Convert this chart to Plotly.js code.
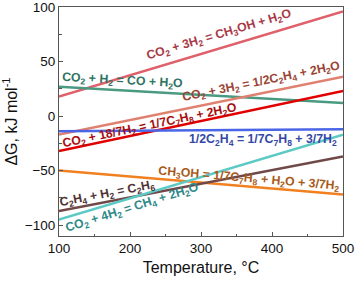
<!DOCTYPE html>
<html><head><meta charset="utf-8">
<script src="https://cdn.plot.ly/plotly-3.0.1.min.js"></script>
<style>html,body{margin:0;padding:0;background:#fff}#c{width:357px;height:282px}</style>
</head><body><div id="c"></div>
<script>
const temps = [100, 500];
const methanol = [18, 96];
const rwgs = [27, 12];
const ethylene = [-17, 36];
const toluene = [-32, 23];
const ethToTol = [-14, -12];
const methToTol = [-50, -72];
const ethHyd = [-87, -37];
const methanation = [-95, -17];
const xTicks = [100, 200, 300, 400, 500];
const yTicks = [-100, -50, 0, 50, 100];
const yTickText = ['\u2212100', '\u221250', '0', '50', '100'];

const lineColors = ['#e0606a', '#4a9a82', '#e08070', '#e00000', '#4a66e6', '#f08020', '#704848', '#5ccac4'];
const series = [methanol, rwgs, ethylene, toluene, ethToTol, methToTol, ethHyd, methanation];

const labels = [
  {t:'CO<sub>2</sub> + 3H<sub>2</sub> = CH<sub>3</sub>OH + H<sub>2</sub>O', x:326, y:74.5, a:-16.6, c:'#a83a48'},
  {t:'CO<sub>2</sub> + H<sub>2</sub> = CO + H<sub>2</sub>O', x:189, y:32, a:3.2, c:'#2e7262'},
  {t:'CO<sub>2</sub> + 3H<sub>2</sub> = 1/2C<sub>2</sub>H<sub>4</sub> + 2H<sub>2</sub>O', x:385, y:31.5, a:-11.5, c:'#9a4434'},
  {t:'CO<sub>2</sub> + 18/7H<sub>2</sub> = 1/7C<sub>7</sub>H<sub>8</sub> + 2H<sub>2</sub>O', x:228, y:-9.5, a:-11.9, c:'#a81010'},
  {t:'1/2C<sub>2</sub>H<sub>4</sub> = 1/7C<sub>7</sub>H<sub>8</sub> + 3/7H<sub>2</sub>', x:388, y:-21.5, a:0, c:'#3448a8'},
  {t:'CH<sub>3</sub>OH = 1/7C<sub>7</sub>H<sub>8</sub> + H<sub>2</sub>O + 3/7H<sub>2</sub>', x:367, y:-58, a:4.8, c:'#a85a18'},
  {t:'C<sub>2</sub>H<sub>4</sub> + H<sub>2</sub> = C<sub>2</sub>H<sub>6</sub>', x:169, y:-71.5, a:-10.9, c:'#503434'},
  {t:'CO<sub>2</sub> + 4H<sub>2</sub> = CH<sub>4</sub> + 2H<sub>2</sub>O', x:204, y:-84.5, a:-17.5, c:'#2e8a88'}
];

const traces = series.map((s, i) => ({
  x: temps, y: s, type: 'scatter', mode: 'lines',
  line: {color: lineColors[i], width: 2.5}, showlegend: false, hoverinfo: 'skip'
}));

const FONT = 'Liberation Sans, Arial, sans-serif';
const annotations = labels.map(l => ({
  x: l.x, y: l.y, xref: 'x', yref: 'y', text: '<b>' + l.t + '</b>',
  showarrow: false, textangle: l.a,
  font: {family: FONT, size: 12.3, color: l.c}
}));

const axisCommon = {
  showline: true, linecolor: '#555', linewidth: 1, mirror: true,
  ticks: 'inside', ticklen: 4, tickcolor: '#555', showgrid: false, zeroline: false,
  tickfont: {family: FONT, size: 13.5, color: '#111'}
};

const layout = {
  width: 357, height: 282,
  margin: {l: 58.5, r: 13.5, t: 7, b: 46},
  paper_bgcolor: '#fff', plot_bgcolor: '#fff',
  xaxis: Object.assign({}, axisCommon, {
    range: [100, 500], tickvals: xTicks,
    minor: {ticks: 'inside', ticklen: 2.5, tickcolor: '#555', dtick: 50},
    title: {text: 'Temperature, °C', standoff: 6, font: {family: FONT, size: 16, color: '#111'}}
  }),
  yaxis: Object.assign({}, axisCommon, {
    range: [-110, 100.05], tickvals: yTicks, ticktext: yTickText,
    ticklabeloverflow: 'allow',
    minor: {ticks: 'inside', ticklen: 2.5, tickcolor: '#555', dtick: 25},
    title: {text: '\u0394G, kJ mol<sup>-1</sup>', standoff: 4, font: {family: FONT, size: 16, color: '#111'}}
  }),
  annotations: annotations
};

Plotly.newPlot('c', traces, layout, {staticPlot: true, displayModeBar: false});
</script>
</body></html>
